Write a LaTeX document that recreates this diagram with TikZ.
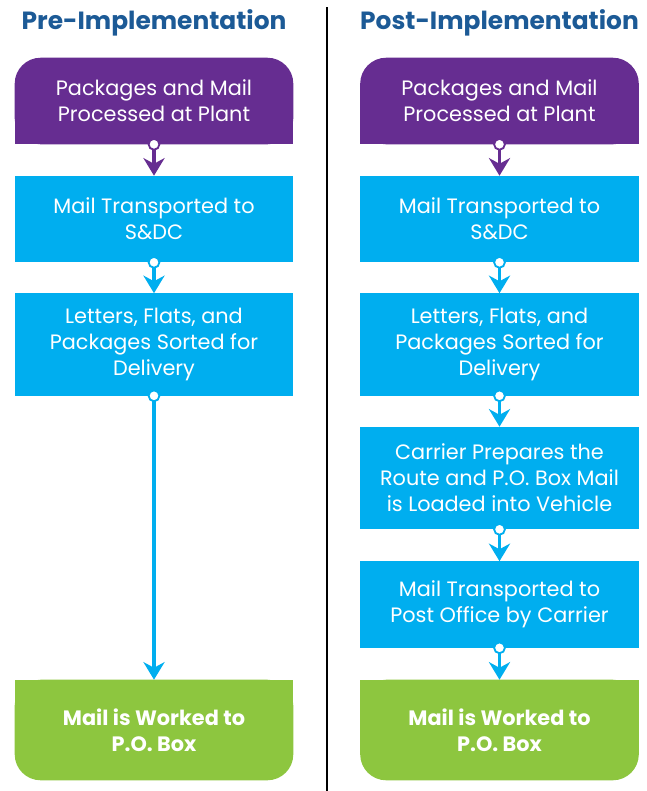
\documentclass[tikz,border=0pt]{standalone}
\usepackage{fontspec}
\setmainfont{Poppins}
\usetikzlibrary{arrows.meta,backgrounds}

\definecolor{plantpurple}{HTML}{662D91}
\definecolor{stepblue}{HTML}{00AEEF}
\definecolor{boxgreen}{HTML}{8DC63F}
\definecolor{headblue}{HTML}{1C5A96}

\tikzset{
  stage/.style={minimum width=6.95cm, minimum height=2.15cm, inner sep=0pt, align=center,
    text=white, font=\fontsize{14.8}{18.5}\selectfont},
  bluestage/.style={stage, fill=stepblue},
  endstage/.style={stage, minimum height=2.5cm, font=\fontsize{14.8}{18.5}\selectfont\bfseries},
  link/.style={line width=2.6pt, shorten <=-4.5pt,
    {Circle[open, fill=white, length=9pt, line width=1.3pt]}-{Stealth[length=12.5pt, width=15pt, inset=4pt]}},
  heading/.style={font=\fontsize{17.7}{22}\selectfont\bfseries, text=headblue},
}

\begin{document}
\begin{tikzpicture}[x=0.025cm, y=-0.025cm]
\useasboundingbox (0,0) rectangle (646,791);

% headings and divider
\node[heading] (preHead) at (154,23) {Pre-Implementation};
\node[heading] (postHead) at (499.5,23) {Post-Implementation};
\draw[line width=1.5pt] (327,7) -- (327,791);

% pre-implementation column
\node[stage] (prePlant) at (154,101) {Packages and Mail\\Processed at Plant};
\node[bluestage] (preSdc) at (154,219) {Mail Transported to\\S\&DC};
\node[bluestage, minimum height=2.55cm] (preSort) at (154,344.5) {Letters, Flats, and\\Packages Sorted for\\Delivery};
\node[endstage] (preBox) at (154,730) {Mail is Worked to\\P.O. Box};

% post-implementation column
\node[stage] (postPlant) at (499.5,101) {Packages and Mail\\Processed at Plant};
\node[bluestage] (postSdc) at (499.5,219) {Mail Transported to\\S\&DC};
\node[bluestage, minimum height=2.55cm] (postSort) at (499.5,344.5) {Letters, Flats, and\\Packages Sorted for\\Delivery};
\node[bluestage, minimum height=2.55cm] (postRoute) at (499.5,478) {Carrier Prepares the\\Route and P.O. Box Mail\\is Loaded into Vehicle};
\node[bluestage] (postCarrier) at (499.5,604.5) {Mail Transported to\\Post Office by Carrier};
\node[endstage] (postBox) at (499.5,730) {Mail is Worked to\\P.O. Box};

% first and last boxes: rounded on the outer side only
\begin{scope}[on background layer]
\foreach \n in {prePlant, postPlant} {
  \fill[plantpurple, rounded corners=0.65cm] (\n.south west) rectangle (\n.north east);
  \fill[plantpurple] (\n.south west) rectangle (\n.east);
}
\foreach \n in {preBox, postBox} {
  \fill[boxgreen, rounded corners=0.65cm] (\n.south west) rectangle (\n.north east);
  \fill[boxgreen] (\n.west) rectangle (\n.north east);
}
\end{scope}

% connectors
\draw[link, plantpurple] (prePlant.south) -- (preSdc.north);
\draw[link, stepblue] (preSdc.south) -- (preSort.north);
\draw[link, stepblue] (preSort.south) -- (preBox.north);

\draw[link, plantpurple] (postPlant.south) -- (postSdc.north);
\foreach \a/\b in {postSdc/postSort, postSort/postRoute, postRoute/postCarrier, postCarrier/postBox}
  \draw[link, stepblue] (\a.south) -- (\b.north);

\end{tikzpicture}
\end{document}
